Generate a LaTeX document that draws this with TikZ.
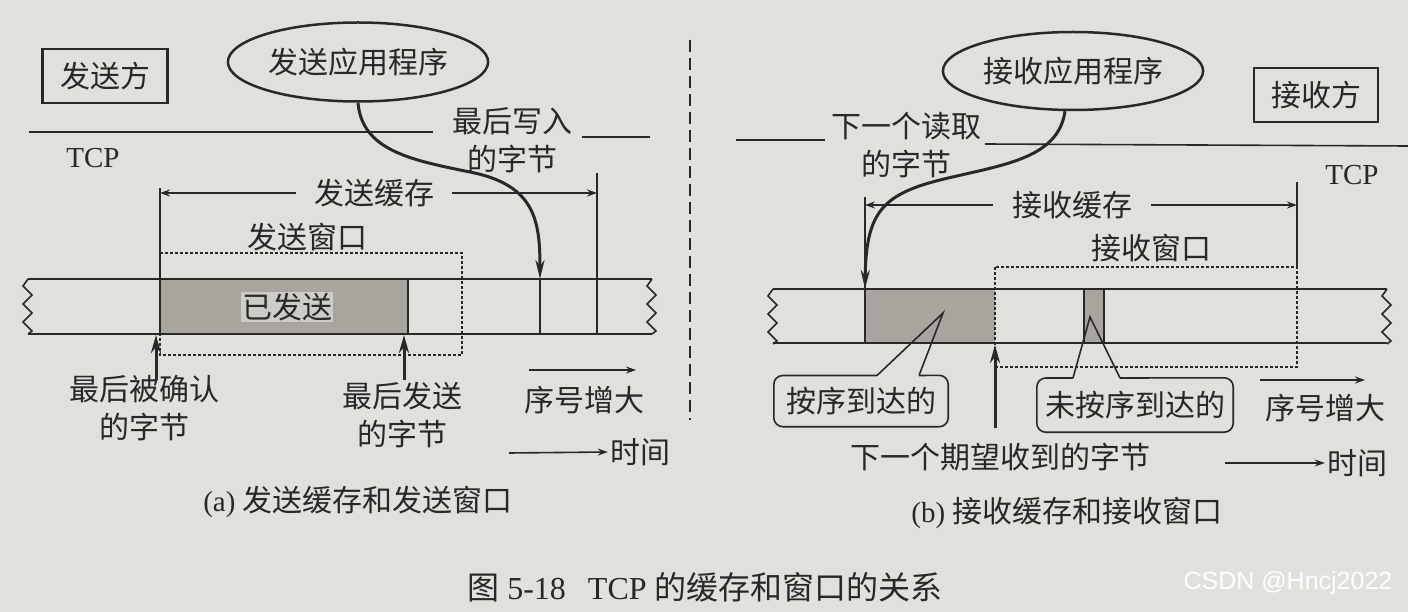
\documentclass[tikz,border=0pt]{standalone}
\usepackage{fontspec}
\setmainfont{Liberation Serif}
\newfontfamily\cjk{Noto Sans CJK SC}
\newfontfamily\wmfont{Liberation Sans}
\usetikzlibrary{arrows.meta,shapes.geometric,positioning}

\begin{document}
\begin{tikzpicture}[x=1pt,y=-1pt,
    lbl/.style={text=tinte, font=\cjk\fontsize{30}{38}\selectfont, inner sep=2pt, align=center},
    latin/.style={text=tinte, font=\fontsize{29}{34}\selectfont, inner sep=2pt},
    kasten/.style={draw=tinte, line width=2.5pt, minimum width=125pt, minimum height=54pt},
    oval/.style={ellipse, draw=tinte, line width=2.5pt, minimum width=216pt, minimum height=79pt, inner xsep=-30pt, inner ysep=0pt},
    linie/.style={draw=tinte, line width=1.6pt},
    massl/.style={draw=tinte, line width=1.6pt, -{Stealth[length=10pt,width=7pt]}},
    strich/.style={draw=tinte, line width=1.2pt, dash pattern=on 3pt off 2pt},
    zeiger/.style={draw=tinte, line width=3pt, -{Stealth[length=19pt,width=9pt]}},
    hoch/.style={draw=tinte, line width=3pt, -{Stealth[length=18pt,width=10pt]}},
    blase/.style={draw=tinte, line width=1.6pt, rounded corners=9pt},
  ]

  % Farben
  \definecolor{papier}{RGB}{224,224,220}
  \definecolor{tinte}{RGB}{40,40,40}
  \definecolor{grau}{RGB}{168,164,158}
  \definecolor{hellgrau}{RGB}{206,204,200}

  % Hintergrund
  \fill[papier] (0,0) rectangle (1408,612);
  \useasboundingbox (0,0) rectangle (1408,612);

  % Trennlinie zwischen (a) und (b)
  \draw[tinte, line width=2.4pt, dash pattern=on 12pt off 6pt] (690,40) -- (690,420);

  % ---------- (a) Sendeseite ----------
  \node[kasten, lbl] (sender) at (105,76) {发送方};
  \node[oval, lbl] (sendapp) at (358,62) {发送应用程序};
  \draw[linie] (29,132) -- (433,132);
  \draw[linie] (582,137) -- (650,137);
  \node[lbl] (lastwrite) at (512,140) {最后写入\\的字节};
  \node[latin] (tcpsend) at (93,158) {TCP};

  % Sendepuffer
  \node[lbl, inner xsep=18pt] (sendbuf) at (374,193) {发送缓存};
  \coordinate (sbL) at (160,193);
  \coordinate (sbR) at (597,193);
  \draw[massl] (sendbuf.west) -- (sbL);
  \draw[massl] (sendbuf.east) -- (sbR);
  \node[lbl] (sendwin) at (307,237) {发送窗口};

  % Streifen
  \fill[grau] (160,279) rectangle (408,334);
  \draw[linie] (28,279) -- (652,279);
  \draw[linie] (28,334) -- (652,334);
  \draw[linie] (160,188) -- (160,334);
  \draw[linie] (408,279) -- (408,334);
  \draw[linie] (540,279) -- (540,334);
  \draw[linie] (597,173) -- (597,334);
  \draw[strich] (160,253) rectangle (462,355);
  \node[lbl, fill=hellgrau, inner sep=1pt] (sent) at (287,307) {已发送};

  % Wellenenden
  \foreach \zx/\zt in {28/279, 652/279, 773/289, 1387/289}
    \draw[linie] (\zx,\zt) -- ++(-5,7) -- ++(9,9) -- ++(-9,9) -- ++(9,9) -- ++(-9,9) -- ++(9,9) -- ++(-4,3);

  % Pfeil der Anwendung
  \coordinate (wrL) at (540,279);
  \draw[zeiger] (sendapp.south) .. controls (362,150) and (410,160) .. (470,172) .. controls (535,185) and (540,220) .. (wrL);

  % Zeiger unten
  \node[lbl] (lastack) at (144,408) {最后被确认\\的字节};
  \node[lbl] (lastsent) at (402,415) {最后发送\\的字节};
  \coordinate (ackT) at (156,335);
  \coordinate (sentT) at (404,335);
  \draw[hoch] (156,380) -- (ackT);
  \draw[hoch] (404,380) -- (sentT);

  \node[lbl] (seqsend) at (584,400) {序号增大};
  \coordinate (seqA) at (529,370);
  \coordinate (seqB) at (636,370);
  \draw[massl] (seqA) -- (seqB);
  \node[lbl] (timesend) at (640,452) {时间};
  \coordinate (timeA) at (509,453);
  \draw[massl] (timeA) -- (timesend.west);

  \node[latin] (capa) at (358,502) {(a) {\cjk\fontsize{30}{34}\selectfont 发送缓存和发送窗口}};

  % ---------- (b) Empfangsseite ----------
  \node[oval, lbl, minimum height=78pt] (recvapp) at (1073,71) {接收应用程序};
  \node[kasten, lbl, minimum width=124pt] (receiver) at (1316,95) {接收方};
  \draw[linie] (736,140) -- (825,140);
  \draw[linie] (985,144) -- (1408,146);
  \node[lbl] (nextread) at (906,145) {下一个读取\\的字节};
  \node[latin] (tcprecv) at (1352,175) {TCP};

  % Empfangspuffer
  \node[lbl, inner xsep=19pt] (recvbuf) at (1072,205) {接收缓存};
  \coordinate (rbL) at (865,205);
  \coordinate (rbR) at (1297,205);
  \draw[massl] (recvbuf.west) -- (rbL);
  \draw[massl] (recvbuf.east) -- (rbR);
  \node[lbl] (recvwin) at (1151,248) {接收窗口};

  % Streifen
  \fill[grau] (865,289) rectangle (995,343);
  \fill[grau] (1084,289) rectangle (1104,343);
  \draw[linie] (773,289) -- (1387,289);
  \draw[linie] (773,343) -- (1387,343);
  \draw[linie] (865,197) -- (865,343);
  \draw[linie] (1084,289) -- (1084,343);
  \draw[linie] (1104,289) -- (1104,343);
  \draw[linie] (1297,182) -- (1297,267);
  \draw[strich] (995,267) rectangle (1297,367);

  % Pfeil der Anwendung
  \coordinate (rdL) at (865,289);
  \draw[zeiger] ([xshift=-8pt]recvapp.south) .. controls (1058,160) and (1000,165) .. (940,180) .. controls (880,195) and (866,215) .. (rdL);

  % Sprechblasen
  \node[lbl, minimum width=174pt, minimum height=51pt] (inorder) at (861,401) {按序到达的};
  \coordinate (ioA) at (877,375.5);
  \coordinate (ioB) at (919,375.5);
  \coordinate (ioT) at (943,313);
  \draw[blase] (ioA) -| (inorder.south west) -| (inorder.north east) -- (ioB);
  \draw[linie] (ioA) -- (ioT) -- (ioB);

  \node[lbl, minimum width=196pt, minimum height=54pt] (outorder) at (1135,405) {未按序到达的};
  \coordinate (ooA) at (1073,378);
  \coordinate (ooB) at (1120,378);
  \coordinate (ooT) at (1090,317);
  \draw[blase] (ooA) -| (outorder.south west) -| (outorder.north east) -- (ooB);
  \draw[linie] (ooA) -- (ooT) -- (ooB);

  % Naechstes erwartetes Byte
  \coordinate (nextT) at (995,345);
  \draw[hoch] (995,428) -- (nextT);
  \node[lbl] (nextexp) at (1000,457) {下一个期望收到的字节};

  \node[lbl] (seqrecv) at (1325,408) {序号增大};
  \coordinate (seqC) at (1260,380);
  \coordinate (seqD) at (1365,380);
  \draw[massl] (seqC) -- (seqD);
  \node[lbl] (timerecv) at (1357,463) {时间};
  \coordinate (timeC) at (1225,463);
  \draw[massl] (timeC) -- (timerecv.west);

  \node[latin] (capb) at (1067,513) {(b) {\cjk\fontsize{30}{34}\selectfont 接收缓存和接收窗口}};

  % Bildunterschrift
  \node[latin, font=\fontsize{32}{36}\selectfont] (caption) at (705,587) {{\cjk 图} 5-18\hspace{22pt}TCP {\cjk 的缓存和窗口的关系}};
  \node[text=white, font=\wmfont\fontsize{25}{28}\selectfont] (watermark) at (1288,583) {CSDN @Hncj2022};

\end{tikzpicture}
\end{document}
